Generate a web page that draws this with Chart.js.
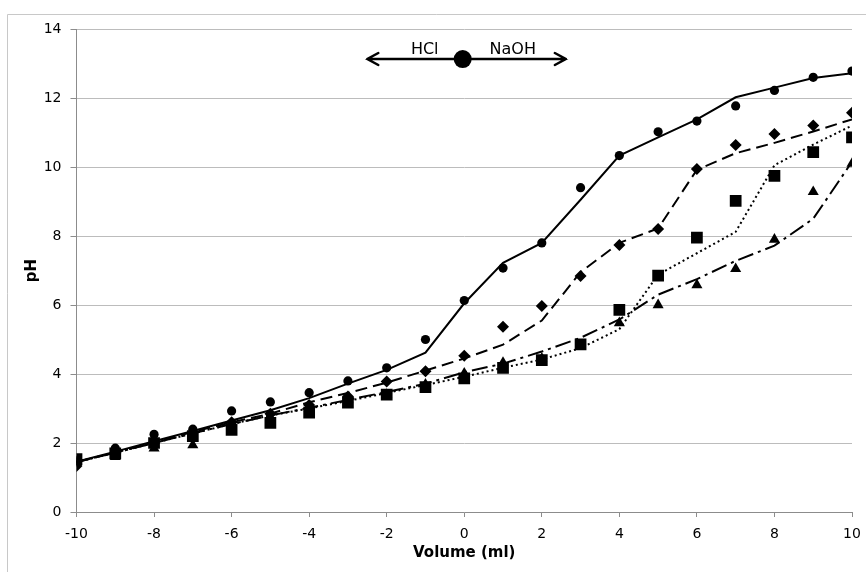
<!DOCTYPE html>
<html>
<head>
<meta charset="utf-8">
<script src="https://cdn.jsdelivr.net/npm/chart.js@4.4.1/dist/chart.umd.min.js"></script>
<style>
  html, body { margin: 0; padding: 0; background: #fff; }
  #wrap { width: 866px; height: 572px; }
</style>
</head>
<body>
<div id="wrap"><canvas id="grafico" width="866" height="572"></canvas></div>
<script>
// volumen anadido (negativo = HCl, positivo = NaOH)
const volumen = [-10, -9, -8, -7, -6, -5, -4, -3, -2, -1, 0, 1, 2, 3, 4, 5, 6, 7, 8, 9, 10];

// puntos medidos
const phCirculo  = [1.45, 1.85, 2.25, 2.4, 2.93, 3.19, 3.46, 3.8, 4.18, 5.0, 6.13, 7.07, 7.8, 9.4, 10.33, 11.02, 11.33, 11.77, 12.22, 12.6, 12.78];
const phRombo    = [1.33, 1.7, 2.0, 2.3, 2.6, 2.85, 3.1, 3.35, 3.78, 4.08, 4.53, 5.37, 5.97, 6.84, 7.74, 8.2, 9.94, 10.64, 10.96, 11.2, 11.57];
const phCuadrado = [1.53, 1.7, 2.0, 2.2, 2.38, 2.58, 2.88, 3.17, 3.4, 3.62, 3.87, 4.18, 4.4, 4.86, 5.86, 6.85, 7.95, 9.02, 9.74, 10.43, 10.86];
const phTriangulo = [1.45, 1.6, 1.85, 1.94, 2.55, 2.75, 3.0, 3.25, 3.4, 3.7, 4.02, 4.33, 4.45, 4.8, 5.48, 6.0, 6.58, 7.05, 7.9, 9.28, 10.1];

// curvas
const curvaSolida  = [1.46, 1.75, 2.05, 2.35, 2.65, 2.95, 3.3, 3.72, 4.12, 4.62, 6.05, 7.22, 7.8, 9.05, 10.33, 10.86, 11.38, 12.02, 12.3, 12.58, 12.72];
const curvaGuiones = [1.45, 1.72, 2.02, 2.32, 2.6, 2.85, 3.18, 3.45, 3.75, 4.1, 4.45, 4.85, 5.55, 6.95, 7.8, 8.22, 9.92, 10.4, 10.7, 11.03, 11.38];
const curvaPuntos  = [1.45, 1.72, 2.0, 2.28, 2.55, 2.8, 3.0, 3.22, 3.45, 3.68, 3.92, 4.18, 4.42, 4.75, 5.3, 6.88, 7.5, 8.12, 10.05, 10.65, 11.2];
const curvaRaya    = [1.45, 1.72, 2.0, 2.28, 2.55, 2.8, 3.02, 3.25, 3.48, 3.72, 4.05, 4.3, 4.65, 5.05, 5.58, 6.3, 6.75, 7.28, 7.72, 8.5, 10.15];

const ticksX = [-10, -8, -6, -4, -2, 0, 2, 4, 6, 8, 10];
const ticksY = [0, 2, 4, 6, 8, 10, 12, 14];

const FUENTE = "'DejaVu Sans', Verdana, sans-serif";

function pares(ys) {
  return volumen.map((x, i) => ({ x: x, y: ys[i] }));
}

function puntos(ys, estilo, radio) {
  return {
    data: pares(ys),
    showLine: false,
    pointStyle: estilo,
    pointRadius: radio,
    backgroundColor: '#000',
    borderColor: '#000',
    borderWidth: 0
  };
}

function curva(ys, dash) {
  return {
    data: pares(ys),
    showLine: true,
    pointRadius: 0,
    borderColor: '#000',
    borderWidth: 2,
    borderDash: dash,
    tension: 0
  };
}

// marco y flecha HCl / NaOH
const extras = {
  id: 'extras',
  beforeDraw(chart) {
    const ctx = chart.ctx;
    ctx.save();
    ctx.fillStyle = '#fff';
    ctx.fillRect(0, 0, chart.width, chart.height);
    ctx.strokeStyle = '#c8c8c8';
    ctx.lineWidth = 1;
    ctx.beginPath();
    ctx.moveTo(7.5, chart.height);
    ctx.lineTo(7.5, 14.5);
    ctx.lineTo(chart.width, 14.5);
    ctx.stroke();
    ctx.restore();
  },
  afterDraw(chart) {
    const ctx = chart.ctx;
    const sx = chart.scales.x, sy = chart.scales.y;
    const x1 = sx.getPixelForValue(-2.5), x2 = sx.getPixelForValue(2.62);
    const xc = sx.getPixelForValue(-0.04);
    const y = sy.getPixelForValue(13.13);
    ctx.save();
    ctx.strokeStyle = '#000';
    ctx.fillStyle = '#000';
    ctx.lineWidth = 2.5;
    ctx.lineCap = 'round';
    ctx.beginPath();
    ctx.moveTo(x1, y); ctx.lineTo(x2, y);
    ctx.moveTo(x1 + 11, y - 6); ctx.lineTo(x1, y); ctx.lineTo(x1 + 11, y + 6);
    ctx.moveTo(x2 - 11, y - 6); ctx.lineTo(x2, y); ctx.lineTo(x2 - 11, y + 6);
    ctx.stroke();
    ctx.beginPath();
    ctx.arc(xc, y, 9, 0, Math.PI * 2);
    ctx.fill();
    ctx.font = '16px ' + FUENTE;
    ctx.textAlign = 'center';
    ctx.textBaseline = 'alphabetic';
    ctx.fillText('HCl', sx.getPixelForValue(-1.02), y - 5);
    ctx.fillText('NaOH', sx.getPixelForValue(1.25), y - 5);
    ctx.restore();
  }
};

const ctx = document.getElementById('grafico').getContext('2d');
new Chart(ctx, {
  type: 'scatter',
  data: {
    datasets: [
      curva(curvaSolida, []),
      curva(curvaGuiones, [12, 6]),
      curva(curvaPuntos, [2, 3]),
      curva(curvaRaya, [16, 5, 3, 5]),
      puntos(phCirculo, 'circle', 4.6),
      puntos(phRombo, 'rectRot', 6),
      puntos(phCuadrado, 'rect', 8.3),
      puntos(phTriangulo, 'triangle', 6.4)
    ]
  },
  options: {
    responsive: false,
    animation: false,
    layout: { padding: { left: 0, right: 14, top: 29, bottom: 0 } },
    plugins: {
      legend: { display: false },
      tooltip: { enabled: false }
    },
    scales: {
      x: {
        type: 'linear',
        min: -10,
        max: 10,
        afterBuildTicks: (s) => { s.ticks = ticksX.map(v => ({ value: v })); },
        afterFit: (s) => { s.height = 60; s.paddingRight = 0; s.paddingLeft = 0; },
        grid: { drawOnChartArea: false, drawTicks: true, tickLength: 5, color: '#8c8c8c' },
        border: { color: '#8c8c8c' },
        ticks: { color: '#000', font: { family: FUENTE, size: 14 }, padding: 9, maxRotation: 0 },
        title: { display: true, text: 'Volume (ml)', color: '#000', font: { family: FUENTE, size: 15, weight: 'bold' }, padding: { top: 0, bottom: 10 } }
      },
      y: {
        min: 0,
        max: 14,
        afterBuildTicks: (s) => { s.ticks = ticksY.map(v => ({ value: v })); },
        afterFit: (s) => { s.width = 76.5; s.paddingTop = 0; s.paddingBottom = 0; },
        grid: { color: '#bcbcbc', tickLength: 6, tickColor: '#8c8c8c' },
        border: { color: '#8c8c8c' },
        ticks: { color: '#000', font: { family: FUENTE, size: 14 }, padding: 9 },
        title: { display: true, text: 'pH', color: '#000', font: { family: FUENTE, size: 15, weight: 'bold' }, padding: { top: 23, bottom: 0 } }
      }
    }
  },
  plugins: [extras]
});
</script>
</body>
</html>
